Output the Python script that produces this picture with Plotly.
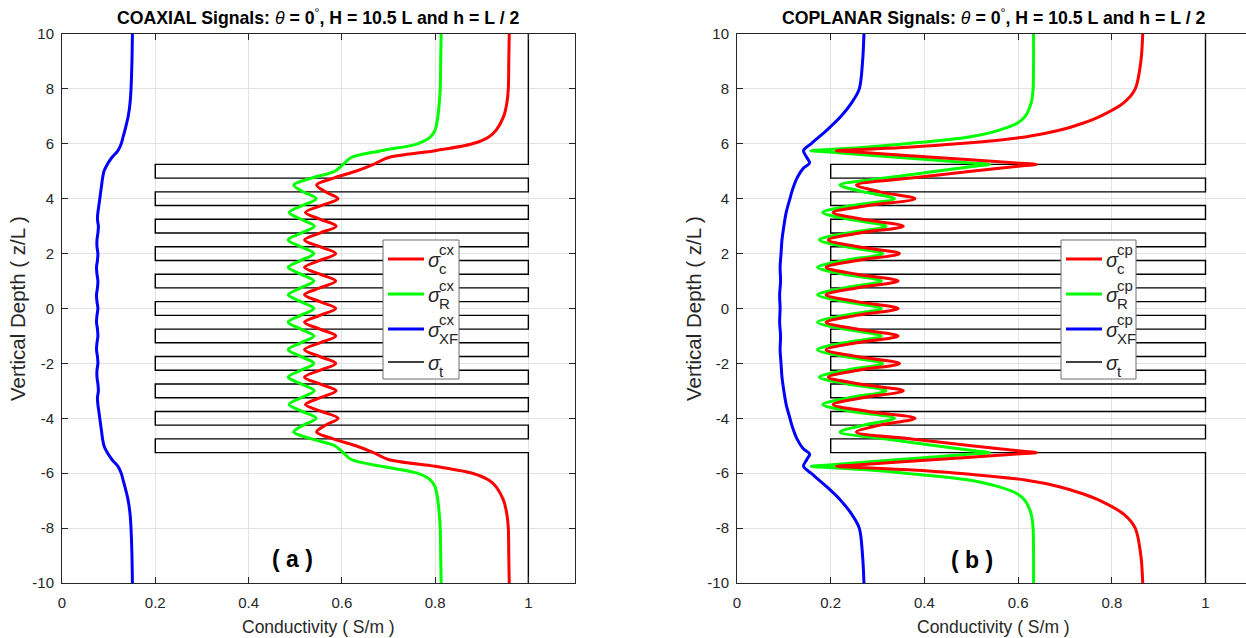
import plotly.graph_objects as go

# ---------------- data ----------------
# true formation profile (sigma_t): layer boundaries (z/L) and conductivities (S/m)
sigma_t_bounds = [10, 5.25, 4.75, 4.25, 3.75, 3.25, 2.75, 2.25, 1.75, 1.25, 0.75, 0.25,
                  -0.25, -0.75, -1.25, -1.75, -2.25, -2.75, -3.25, -3.75, -4.25, -4.75, -5.25, -10]
sigma_t_vals = [1, 0.2, 1, 0.2, 1, 0.2, 1, 0.2, 1, 0.2, 1, 0.2,
                1, 0.2, 1, 0.2, 1, 0.2, 1, 0.2, 1, 0.2, 1]

# COAXIAL panel
z_cx = [10, 9, 8, 7.5, 7, 6.5, 6.25, 6, 5.75, 5.5, 5.25, 5, 4.75, 4.5, 4.25, 4, 3.75, 3.5,
        3.25, 3, 2.75, 2.5, 2.25, 2, 1.75, 1.5, 1.25, 1, 0.75, 0.5, 0.25, 0,
        -0.25, -0.5, -0.75, -1, -1.25, -1.5, -1.75, -2, -2.25, -2.5, -2.75, -3, -3.25, -3.5,
        -3.75, -4, -4.25, -4.5, -4.75, -5, -5.25, -5.5, -5.75, -6, -6.25, -6.5, -7, -7.5, -8, -9, -10]
sig_c_cx = [0.959, 0.958, 0.957, 0.954, 0.947, 0.931, 0.915, 0.880, 0.800, 0.700, 0.668, 0.630,
            0.582, 0.546, 0.565, 0.592, 0.556, 0.522, 0.554, 0.588, 0.553, 0.520, 0.553, 0.587,
            0.553, 0.520, 0.553, 0.587, 0.553, 0.520, 0.553, 0.587,
            0.553, 0.520, 0.553, 0.587, 0.553, 0.520, 0.553, 0.587, 0.553, 0.520, 0.553, 0.588,
            0.554, 0.522, 0.556, 0.592, 0.565, 0.546, 0.582, 0.630, 0.668, 0.700, 0.800, 0.880,
            0.915, 0.931, 0.947, 0.954, 0.957, 0.958, 0.959]
sig_r_cx = [0.813, 0.812, 0.811, 0.809, 0.806, 0.800, 0.790, 0.762, 0.685, 0.620, 0.603, 0.585,
            0.535, 0.497, 0.517, 0.545, 0.515, 0.487, 0.513, 0.541, 0.513, 0.485, 0.512, 0.540,
            0.512, 0.485, 0.512, 0.540, 0.512, 0.485, 0.512, 0.540,
            0.512, 0.485, 0.512, 0.540, 0.512, 0.485, 0.512, 0.540, 0.512, 0.485, 0.513, 0.541,
            0.513, 0.487, 0.515, 0.545, 0.517, 0.497, 0.535, 0.585, 0.603, 0.620, 0.685, 0.762,
            0.790, 0.800, 0.806, 0.809, 0.811, 0.812, 0.813]
sig_xf_cx = [0.151, 0.150, 0.148, 0.146, 0.142, 0.135, 0.131, 0.127, 0.120, 0.107, 0.097, 0.090,
             0.087, 0.085, 0.083, 0.081, 0.079, 0.077, 0.076, 0.078, 0.077, 0.075, 0.075, 0.077,
             0.076, 0.074, 0.075, 0.077, 0.076, 0.074, 0.075, 0.077,
             0.075, 0.074, 0.076, 0.077, 0.075, 0.074, 0.076, 0.077, 0.075, 0.075, 0.077, 0.078,
             0.076, 0.077, 0.079, 0.081, 0.083, 0.085, 0.087, 0.090, 0.097, 0.107, 0.120, 0.127,
             0.131, 0.135, 0.142, 0.146, 0.148, 0.150, 0.151]

# COPLANAR panel
z_cp = [10, 9, 8, 7.5, 7, 6.75, 6.5, 6.25, 6, 5.875, 5.8, 5.75, 5.7, 5.5, 5.3, 5.25, 5.2, 5,
        4.75, 4.5, 4.25, 4, 3.75, 3.5, 3.25, 3, 2.75, 2.5, 2.25, 2, 1.75, 1.5, 1.25, 1, 0.75, 0.5, 0.25, 0,
        -0.25, -0.5, -0.75, -1, -1.25, -1.5, -1.75, -2, -2.25, -2.5, -2.75, -3, -3.25, -3.5, -3.75,
        -4, -4.25, -4.5, -4.75, -5, -5.2, -5.25, -5.3, -5.5, -5.7, -5.75, -5.8, -5.875, -6, -6.25,
        -6.5, -6.75, -7, -7.5, -8, -9, -10]
sig_c_cp = [0.866, 0.862, 0.850, 0.826, 0.775, 0.738, 0.690, 0.615, 0.470, 0.365, 0.275, 0.212,
            0.255, 0.426, 0.597, 0.639, 0.610, 0.500, 0.372, 0.255, 0.305, 0.380, 0.280, 0.205,
            0.268, 0.355, 0.262, 0.195, 0.259, 0.347, 0.256, 0.190, 0.255, 0.344, 0.255, 0.190,
            0.255, 0.344,
            0.255, 0.190, 0.255, 0.344, 0.255, 0.190, 0.256, 0.347, 0.259, 0.195, 0.262, 0.355,
            0.268, 0.205, 0.280, 0.380, 0.305, 0.255, 0.372, 0.500, 0.610, 0.639, 0.597, 0.426,
            0.255, 0.212, 0.275, 0.365, 0.470, 0.615, 0.690, 0.738, 0.775, 0.826, 0.850, 0.862, 0.866]
sig_r_cp = [0.633, 0.633, 0.632, 0.628, 0.615, 0.598, 0.560, 0.495, 0.360, 0.275, 0.205, 0.158,
            0.196, 0.348, 0.500, 0.539, 0.515, 0.425, 0.315, 0.220, 0.270, 0.336, 0.245, 0.183,
            0.240, 0.318, 0.236, 0.176, 0.233, 0.311, 0.230, 0.172, 0.229, 0.308, 0.229, 0.172,
            0.229, 0.308,
            0.229, 0.172, 0.229, 0.308, 0.229, 0.172, 0.230, 0.311, 0.233, 0.176, 0.236, 0.318,
            0.240, 0.183, 0.245, 0.336, 0.270, 0.220, 0.315, 0.425, 0.515, 0.539, 0.500, 0.348,
            0.196, 0.158, 0.205, 0.275, 0.360, 0.495, 0.560, 0.598, 0.615, 0.628, 0.632, 0.633, 0.633]
z_cp_xf = [10, 9, 8, 7.5, 7, 6.5, 6.25, 6, 5.75, 5.5, 5.3, 5.1, 4.75, 4.5, 4.25, 4, 3.5, 3, 2.5,
           2, 1.5, 1, 0.5, 0, -0.5, -1, -1.5, -2, -2.5, -3, -3.5, -4, -4.25, -4.5, -4.75, -5.1,
           -5.3, -5.5, -5.75, -6, -6.25, -6.5, -7, -7.5, -8, -9, -10]
sig_xf_cp = [0.271, 0.268, 0.261, 0.245, 0.222, 0.192, 0.175, 0.158, 0.142, 0.149, 0.155, 0.141,
             0.128, 0.122, 0.117, 0.113, 0.105, 0.100, 0.096, 0.094, 0.092, 0.093, 0.091, 0.092,
             0.091, 0.093, 0.092, 0.094, 0.096, 0.100, 0.105, 0.113, 0.117, 0.122, 0.128, 0.141,
             0.155, 0.149, 0.142, 0.158, 0.175, 0.192, 0.222, 0.245, 0.261, 0.268, 0.271]

x_ticks = [0, 0.2, 0.4, 0.6, 0.8, 1]
x_tick_text = ["0", "0.2", "0.4", "0.6", "0.8", "1"]
y_ticks = [-10, -8, -6, -4, -2, 0, 2, 4, 6, 8, 10]
y_tick_text = ["-10", "-8", "-6", "-4", "-2", "0", "2", "4", "6", "8", "10"]

# ---------------- figure ----------------
W, H = 1246, 638
FONT = "Liberation Sans, Arial, Helvetica, sans-serif"
AX = "#262626"
GRID = "#e3e3e3"
LW = 3.0

st_x, st_y = [], []
for i, s in enumerate(sigma_t_vals):
    st_x += [s, s]
    st_y += [sigma_t_bounds[i], sigma_t_bounds[i + 1]]

fig = go.Figure()

def add_panel(xa, ya, z1, c, r, zx, xf):
    fig.add_trace(go.Scatter(x=st_x, y=st_y, mode="lines", line=dict(color="black", width=1.4),
                             xaxis=xa, yaxis=ya, showlegend=False))
    fig.add_trace(go.Scatter(x=xf, y=zx, mode="lines", line=dict(color="#0000ff", width=LW, shape="spline", smoothing=0.9),
                             xaxis=xa, yaxis=ya, showlegend=False))
    fig.add_trace(go.Scatter(x=r, y=z1, mode="lines", line=dict(color="#00ff00", width=LW, shape="spline", smoothing=0.9),
                             xaxis=xa, yaxis=ya, showlegend=False))
    fig.add_trace(go.Scatter(x=c, y=z1, mode="lines", line=dict(color="#ff0000", width=LW, shape="spline", smoothing=0.9),
                             xaxis=xa, yaxis=ya, showlegend=False))

add_panel("x", "y", z_cx, sig_c_cx, sig_r_cx, z_cx, sig_xf_cx)
add_panel("x2", "y2", z_cp, sig_c_cp, sig_r_cp, z_cp_xf, sig_xf_cp)

L0, L1 = 62, 575
R0, R1 = 737, 1246
T, B = 34, 583

def xaxis(dom, rng, mirror):
    return dict(domain=dom, range=rng, tickvals=x_ticks, ticktext=x_tick_text, ticks="inside",
                ticklen=6, tickcolor=AX, showline=True, linecolor=AX, linewidth=1, mirror=mirror,
                showgrid=True, gridcolor=GRID, gridwidth=1, zeroline=False, automargin=False,
                ticklabelstandoff=6, tickfont=dict(family=FONT, size=15, color=AX))

def yaxis(anchor, mirror):
    return dict(domain=[1 - B / H, 1 - T / H], range=[-10, 10], tickvals=y_ticks, ticktext=y_tick_text,
                ticks="inside", ticklen=6, tickcolor=AX, showline=True, linecolor=AX, linewidth=1,
                mirror=mirror, showgrid=True, gridcolor=GRID, gridwidth=1, zeroline=False,
                automargin=False, anchor=anchor, ticklabelstandoff=4,
                tickfont=dict(family=FONT, size=15, color=AX))

fig.update_layout(
    width=W, height=H, margin=dict(l=0, r=0, t=0, b=0, pad=0, autoexpand=False),
    paper_bgcolor="white", plot_bgcolor="white",
    xaxis=xaxis([L0 / W, L1 / W], [0, 1.1], "ticks"),
    yaxis=yaxis("x", "ticks"),
    xaxis2=dict(xaxis([R0 / W, 1.0], [0, (R1 - R0) / 468.5], "ticks"), anchor="y2"),
    yaxis2=yaxis("x2", False),
    font=dict(family=FONT, color=AX),
)

ann = []
shapes = []

def px(x):
    return x / W

def py(y):
    return 1 - y / H

def title(cx, name):
    ann.append(dict(x=px(cx), y=py(17), xref="paper", yref="paper", showarrow=False,
                    xanchor="center", yanchor="middle",
                    text="<b>" + name + " Signals: </b><i>θ</i><b> = 0</b><sup>°</sup><b>, H = 10.5 L and h = L / 2</b>",
                    font=dict(family=FONT, size=17.7, color="black")))

title((L0 + L1) / 2, "COAXIAL")
title(993, "COPLANAR")

for cx in [(L0 + L1) / 2, 993]:
    ann.append(dict(x=px(cx), y=py(627), xref="paper", yref="paper", showarrow=False,
                    xanchor="center", yanchor="middle", text="Conductivity ( S/m )",
                    font=dict(family=FONT, size=17.5, color=AX)))
for lx in [17, 693]:
    ann.append(dict(x=px(lx), y=py(309), xref="paper", yref="paper", showarrow=False,
                    xanchor="center", yanchor="middle", textangle=-90, text="Vertical Depth ( z/L )",
                    font=dict(family=FONT, size=20.5, color=AX)))

ann.append(dict(x=px(292), y=py(559), xref="paper", yref="paper", showarrow=False,
                xanchor="center", yanchor="middle", text="<b>( a )</b>",
                font=dict(family=FONT, size=23, color="black")))
ann.append(dict(x=px(972), y=py(560), xref="paper", yref="paper", showarrow=False,
                xanchor="center", yanchor="middle", text="<b>( b )</b>",
                font=dict(family=FONT, size=23, color="black")))

# manual legends (stacked super/subscripts as in the original)
def legend(bx0, bx1, sup):
    shapes.append(dict(type="rect", xref="paper", yref="paper", x0=px(bx0), x1=px(bx1),
                       y0=py(379), y1=py(240), fillcolor="white", line=dict(color="#6e6e6e", width=1),
                       layer="above"))
    items = [("#ff0000", LW, sup, "c", 259), ("#00ff00", LW, sup, "R", 294),
             ("#0000ff", LW, sup, "XF", 329), ("black", 1.3, "", "t", 362)]
    lx0 = bx0 + 5
    lx1 = bx0 + 41
    for col, w, sp, sb, yy in items:
        shapes.append(dict(type="line", xref="paper", yref="paper", x0=px(lx0), x1=px(lx1),
                           y0=py(yy), y1=py(yy), line=dict(color=col, width=w), layer="above"))
        ann.append(dict(x=px(lx1 + 2), y=py(yy + 1), xref="paper", yref="paper", showarrow=False,
                        xanchor="left", yanchor="middle", text="<i>σ</i>",
                        font=dict(family=FONT, size=20, color=AX)))
        if sp:
            ann.append(dict(x=px(lx1 + 13), y=py(yy - 9), xref="paper", yref="paper", showarrow=False,
                            xanchor="left", yanchor="middle", text=sp,
                            font=dict(family=FONT, size=15, color=AX)))
        ann.append(dict(x=px(lx1 + 13), y=py(yy + 9), xref="paper", yref="paper", showarrow=False,
                        xanchor="left", yanchor="middle", text=sb,
                        font=dict(family=FONT, size=15, color=AX)))

legend(383, 459, "cx")
legend(1061, 1136, "cp")

fig.update_layout(annotations=ann, shapes=shapes)
fig.write_html("out.html", config={"displayModeBar": False},
               post_script="document.body.style.margin='0';document.body.style.padding='0';"
                           "document.body.style.overflow='hidden';")
